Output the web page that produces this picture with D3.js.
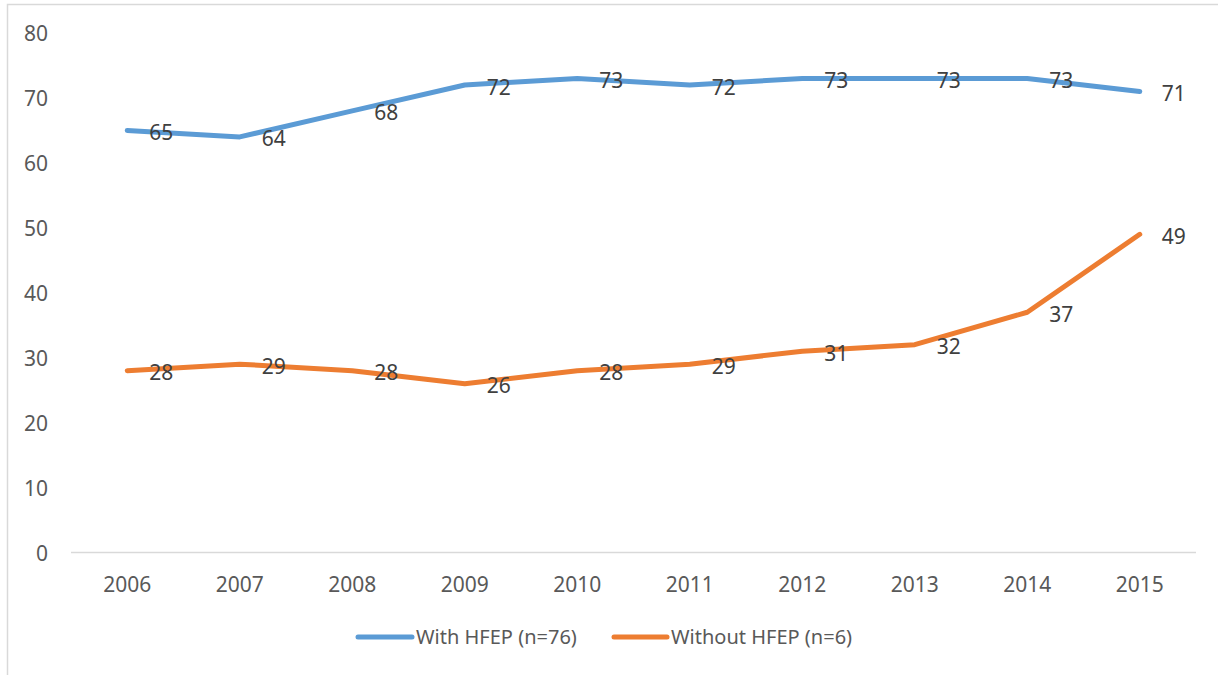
<!DOCTYPE html>
<html>
<head>
<meta charset="utf-8">
<script src="https://cdn.jsdelivr.net/npm/d3@7"></script>
<style>
    body { margin: 0; background: #ffffff; }
    svg { display: block; font-family: "Noto Sans", "Open Sans", sans-serif; }
</style>
</head>
<body>
<div id="chart"></div>
<script>
const years = ["2006", "2007", "2008", "2009", "2010", "2011", "2012", "2013", "2014", "2015"];
const withHfep = [65, 64, 68, 72, 73, 72, 73, 73, 73, 71];
const withoutHfep = [28, 29, 28, 26, 28, 29, 31, 32, 37, 49];
const yTicks = [0, 10, 20, 30, 40, 50, 60, 70, 80];
const seriesNames = ["With HFEP (n=76)", "Without HFEP (n=6)"];

const width = 1218;
const height = 675;
const colors = ["#5b9bd5", "#ed7d31"];

const svg = d3.select("#chart")
    .append("svg")
    .attr("width", width)
    .attr("height", height);

// chart area border (cut off at right and bottom)
svg.append("rect")
    .attr("x", 7.5)
    .attr("y", 4.5)
    .attr("width", width + 20)
    .attr("height", height + 20)
    .attr("fill", "none")
    .attr("stroke", "#d9d9d9")
    .attr("stroke-width", 1.5);

const xScale = d3.scaleBand()
    .domain(years)
    .range([71, 1196]);

const yScale = d3.scaleLinear()
    .domain([0, 80])
    .range([552.5, 33]);

// x axis line
svg.append("line")
    .attr("x1", xScale.range()[0])
    .attr("x2", xScale.range()[1])
    .attr("y1", yScale(0))
    .attr("y2", yScale(0))
    .attr("stroke", "#d9d9d9")
    .attr("stroke-width", 1.5);

const yAxis = d3.axisLeft(yScale)
    .tickValues(yTicks)
    .tickSize(0)
    .tickPadding(0);

const yG = svg.append("g")
    .attr("transform", "translate(48,0)")
    .call(yAxis);
yG.select(".domain").remove();
yG.selectAll("text")
    .attr("dy", "0.36em")
    .style("font-family", "\"Noto Sans\", sans-serif")
    .style("font-size", "21px")
    .style("fill", "#595959");

const xAxis = d3.axisBottom(xScale)
    .tickSize(0)
    .tickPadding(0);

const xG = svg.append("g")
    .attr("transform", `translate(0,${yScale(0)})`)
    .call(xAxis);
xG.select(".domain").remove();
xG.selectAll("text")
    .attr("y", 39)
    .attr("dy", "0")
    .style("font-family", "\"Noto Sans\", sans-serif")
    .style("font-size", "21px")
    .style("fill", "#595959");

const line = d3.line()
    .x((d, i) => xScale(years[i]) + xScale.bandwidth() / 2)
    .y(d => yScale(d));

[withHfep, withoutHfep].forEach((values, s) => {
    svg.append("path")
        .datum(values)
        .attr("fill", "none")
        .attr("stroke", colors[s])
        .attr("stroke-width", 5)
        .attr("stroke-linecap", "round")
        .attr("stroke-linejoin", "round")
        .attr("d", line);

    svg.selectAll(".label-" + s)
        .data(values)
        .enter()
        .append("text")
        .attr("class", "label-" + s)
        .attr("x", (d, i) => xScale(years[i]) + xScale.bandwidth() / 2 + 22)
        .attr("y", d => yScale(d) + 2)
        .attr("dy", "0.36em")
        .style("font-size", "21px")
        .style("fill", "#404040")
        .text(d => d);
});

// legend
const legendItems = [
    { x1: 358, x2: 412, tx: 416 },
    { x1: 614, x2: 667, tx: 671 }
];

legendItems.forEach((item, s) => {
    svg.append("line")
        .attr("x1", item.x1)
        .attr("x2", item.x2)
        .attr("y1", 637)
        .attr("y2", 637)
        .attr("stroke", colors[s])
        .attr("stroke-width", 5)
        .attr("stroke-linecap", "round");

    svg.append("text")
        .attr("x", item.tx)
        .attr("y", 637)
        .attr("dy", "0.36em")
        .style("font-size", "20px")
        .style("fill", "#595959")
        .text(seriesNames[s]);
});
</script>
</body>
</html>
